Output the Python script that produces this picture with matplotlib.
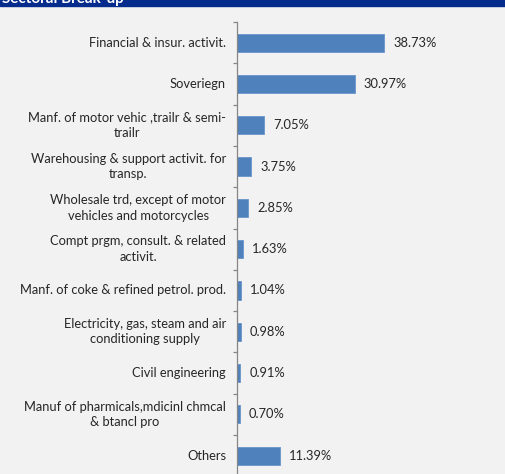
import matplotlib
matplotlib.use("Agg")
import matplotlib.pyplot as plt
import numpy as np

plt.rcParams['font.family'] = ['Lato', 'DejaVu Sans']

categories = [
    "Financial & insur. activit.",
    "Soveriegn",
    "Manf. of motor vehic ,trailr & semi-\ntrailr",
    "Warehousing & support activit. for\ntransp.",
    "Wholesale trd, except of motor\nvehicles and motorcycles",
    "Compt prgm, consult. & related\nactivit.",
    "Manf. of coke & refined petrol. prod.",
    "Electricity, gas, steam and air\nconditioning supply",
    "Civil engineering",
    "Manuf of pharmicals,mdicinl chmcal\n& btancl pro",
    "Others",
]
shares = [38.73, 30.97, 7.05, 3.75, 2.85, 1.63, 1.04, 0.98, 0.91, 0.70, 11.39]
title = "Sectoral Break-up"

W, H = 505, 474
fig = plt.figure(figsize=(W / 100, H / 100), dpi=100)
fig.patch.set_facecolor('#F2F2F2')

# header band
band_h = 6
fig.patches.append(plt.Rectangle((0, 1 - band_h / H), 1, band_h / H,
                                 transform=fig.transFigure, color='#052B8C', zorder=0))
fig.text(2 / W, 1 - 3.5 / H, title, color='white', fontsize=11, fontweight='bold',
         ha='left', va='baseline')

# plot area
x0, top, step = 237, 22, 41.3
xmax = 60
px_per = 3.795
n = len(categories)
ax_w = xmax * px_per
ax_h = n * step
ax = fig.add_axes([x0 / W, (H - top - ax_h) / H, ax_w / W, ax_h / H])
ax.set_facecolor('#F2F2F2')

y = np.arange(n)
ax.barh(y, shares, height=0.44, color='#4F81BD', edgecolor='#6A95CC', linewidth=0.6)
ax.set_xlim(0, xmax)
ax.set_ylim(n - 0.5, -0.5)

fs = 9.3
for yi, v in zip(y, shares):
    ax.text(v + 2.4, yi, f"{v:.2f}%", va='center', ha='left', fontsize=fs, color='#262626')

for yi, lab in zip(y, categories):
    ax.text(-11 / px_per, yi, lab, va='center', ha='right', multialignment='center',
            fontsize=fs, color='#262626', linespacing=1.35)

for s in ['top', 'right', 'bottom']:
    ax.spines[s].set_visible(False)
ax.spines['left'].set_color('#868686')
ax.spines['left'].set_linewidth(0.9)
ax.set_yticks(np.arange(-0.5, n, 1.0))
ax.set_yticklabels([])
ax.tick_params(axis='y', direction='out', length=3, width=0.9, color='#868686')
ax.set_xticks([])

fig.savefig('out.png', dpi=100, facecolor=fig.get_facecolor())
